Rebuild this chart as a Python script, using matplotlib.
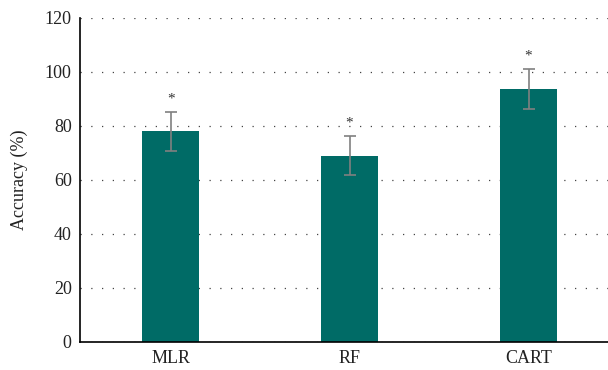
import matplotlib.pyplot as plt
import numpy as np

models = ['MLR', 'RF', 'CART']
accuracy = [78, 69, 93.7]
errors = [7.3, 7.3, 7.3]
yticks = [0, 20, 40, 60, 80, 100, 120]

plt.rcParams['font.family'] = ['Liberation Serif', 'DejaVu Serif']

fig = plt.figure(figsize=(6.08, 3.70), dpi=100)
ax = fig.add_axes([0.1316, 0.0757, 0.8684, 0.8757])

x = np.arange(len(models))
ax.bar(x, accuracy, width=0.32, color='#006B66', zorder=2)
ax.errorbar(x, accuracy, yerr=errors, fmt='none', ecolor='#808080',
            elinewidth=1.2, capsize=4, capthick=1.2, zorder=3)
for xi, v, e in zip(x, accuracy, errors):
    ax.text(xi, v + e + 4.8, '*', ha='center', va='center', fontsize=11, color='#333333')

ax.set_xlim(-0.506, 2.444)
ax.set_ylim(0, 120)
ax.set_yticks(yticks)
ax.set_xticks(x)
ax.set_xticklabels(models)
ax.tick_params(length=0, labelsize=13, pad=6, colors='#222222')
ax.yaxis.grid(True, linestyle=(0, (1, 7.6)), color='#444444', linewidth=0.9, zorder=0)
ax.set_axisbelow(True)
for s in ['top', 'right']:
    ax.spines[s].set_visible(False)
for s in ['left', 'bottom']:
    ax.spines[s].set_linewidth(1.2)
ax.set_ylabel('Accuracy (%)', fontsize=13, color='#222222', labelpad=12)

fig.savefig('out.png', dpi=100)
